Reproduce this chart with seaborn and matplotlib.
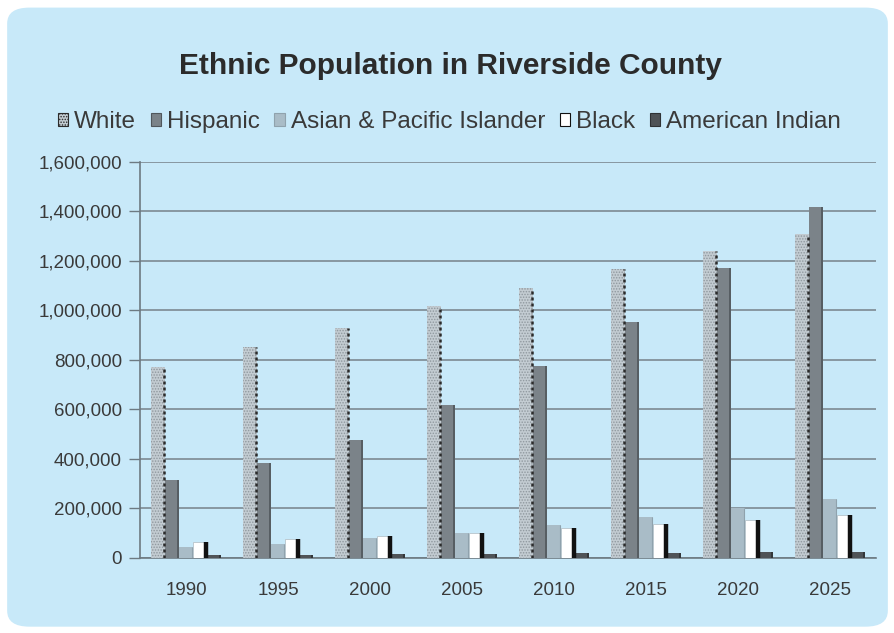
import numpy as np
import pandas as pd
import seaborn as sns
import matplotlib
matplotlib.use("Agg")
import matplotlib.pyplot as plt
from matplotlib.patches import FancyBboxPatch, Patch
from matplotlib.ticker import FuncFormatter

years = ["1990", "1995", "2000", "2005", "2010", "2015", "2020", "2025"]
groups = ["White", "Hispanic", "Asian & Pacific Islander", "Black", "American Indian"]

white = [772000, 853000, 929000, 1018000, 1091000, 1168000, 1240000, 1309000]
hispanic = [315000, 384000, 477000, 618000, 776000, 954000, 1172000, 1418000]
asian = [45000, 57000, 80000, 100000, 133000, 165000, 200000, 237000]
black = [65000, 76000, 88000, 100000, 120000, 137000, 155000, 174000]
american_indian = [13000, 14000, 16000, 17000, 19000, 21000, 24000, 25000]

series = [white, hispanic, asian, black, american_indian]
fills = ["#c3ccd2", "#7b8389", "#a9bcc7", "#ffffff", "#4f5357"]
edge_colors = ["#2b2b2b", "#50575c", "#8fa2ad", "#111111", "#2f3235"]
edge_styles = [(0, (1.2, 1.2)), "-", "-", "-", "-"]
edge_widths = [1.8, 1.2, 0.8, 3.2, 1.2]

df = pd.DataFrame({
    "year": [y for y in years for _ in groups],
    "group": [g for _ in years for g in groups],
    "value": [s[i] for i in range(len(years)) for s in series],
})

bg = "#c8e9f9"
sns.set_theme(style="white")
plt.rcParams["font.family"] = ["Liberation Sans", "DejaVu Sans"]
plt.rcParams["hatch.linewidth"] = 0.7
plt.rcParams["hatch.color"] = "#8f989e"

fig = plt.figure(figsize=(8.95, 6.33), dpi=100)
fig.patch.set_facecolor("white")
card = FancyBboxPatch((0.008, 0.01), 0.984, 0.978,
                      boxstyle="round,pad=0,rounding_size=0.025",
                      transform=fig.transFigure, facecolor=bg,
                      edgecolor="none", zorder=-10)
fig.patches.append(card)

ax = fig.add_axes([0.1564, 0.1185, 0.8224, 0.6256])
ax.set_facecolor(bg)

sns.barplot(data=df, x="year", y="value", hue="group", hue_order=groups,
            palette=fills, width=0.76, gap=0, saturation=1, ax=ax,
            legend=False, zorder=3)

for k, container in enumerate(ax.containers):
    for bar in container:
        bar.set_linewidth(0)
        if k == 0:
            bar.set_hatch("......")
            bar.set_edgecolor("#8f989e")
        elif k == 3:
            bar.set_edgecolor("#b7c3ca")
            bar.set_linewidth(0.6)
        else:
            bar.set_edgecolor("none")
        x_right = bar.get_x() + bar.get_width()
        h = bar.get_height()
        # darker right-hand side gives each column its raised look
        ax.vlines(x_right - 0.012, 0, h, colors=edge_colors[k],
                  linestyles=edge_styles[k], linewidth=edge_widths[k], zorder=4)

ax.set_ylim(0, 1600000)
ax.set_xlim(-0.5, len(years) - 0.5)
ax.set_yticks(np.arange(0, 1600001, 200000))
ax.yaxis.set_major_formatter(FuncFormatter(lambda v, p: f"{int(v):,}"))
ax.grid(axis="y", color="#7d8a92", linewidth=1.2, zorder=1)
ax.set_axisbelow(True)

ax.set_xticks(range(len(years)))
ax.set_xticklabels(years)
ax.set_xticks(np.arange(-0.5, len(years)), minor=True)
ax.tick_params(axis="x", which="major", length=0, pad=17, labelsize=13.5, labelcolor="#3a3a3a")
ax.tick_params(axis="x", which="minor", length=5, width=1, color="#6d7a82", direction="out")
ax.tick_params(axis="y", length=8, width=1, color="#6d7a82", direction="out",
               labelsize=13.5, labelcolor="#3a3a3a", pad=5, left=True)
ax.set_xlabel("")
ax.set_ylabel("")

for side in ("top", "right"):
    ax.spines[side].set_visible(False)
for side in ("left", "bottom"):
    ax.spines[side].set_color("#6d7a82")
    ax.spines[side].set_linewidth(1.2)

handles = []
for k, g in enumerate(groups):
    handles.append(Patch(facecolor=fills[k], edgecolor=edge_colors[k], linewidth=0.8,
                         hatch="......" if k == 0 else None, label=g))
fig.legend(handles=handles, loc="center", bbox_to_anchor=(0.502, 0.807), ncol=5,
           frameon=False, fontsize=17.5, handlelength=0.42, handleheight=0.5,
           handletextpad=0.25, columnspacing=0.6, labelcolor="#3a3a3a",
           borderaxespad=0, borderpad=0)

fig.text(0.503, 0.895, "Ethnic Population in Riverside County", ha="center", va="center",
         fontsize=21.5, fontweight="bold", color="#2b2b2b")

fig.savefig("out.png", dpi=100, facecolor="white")
